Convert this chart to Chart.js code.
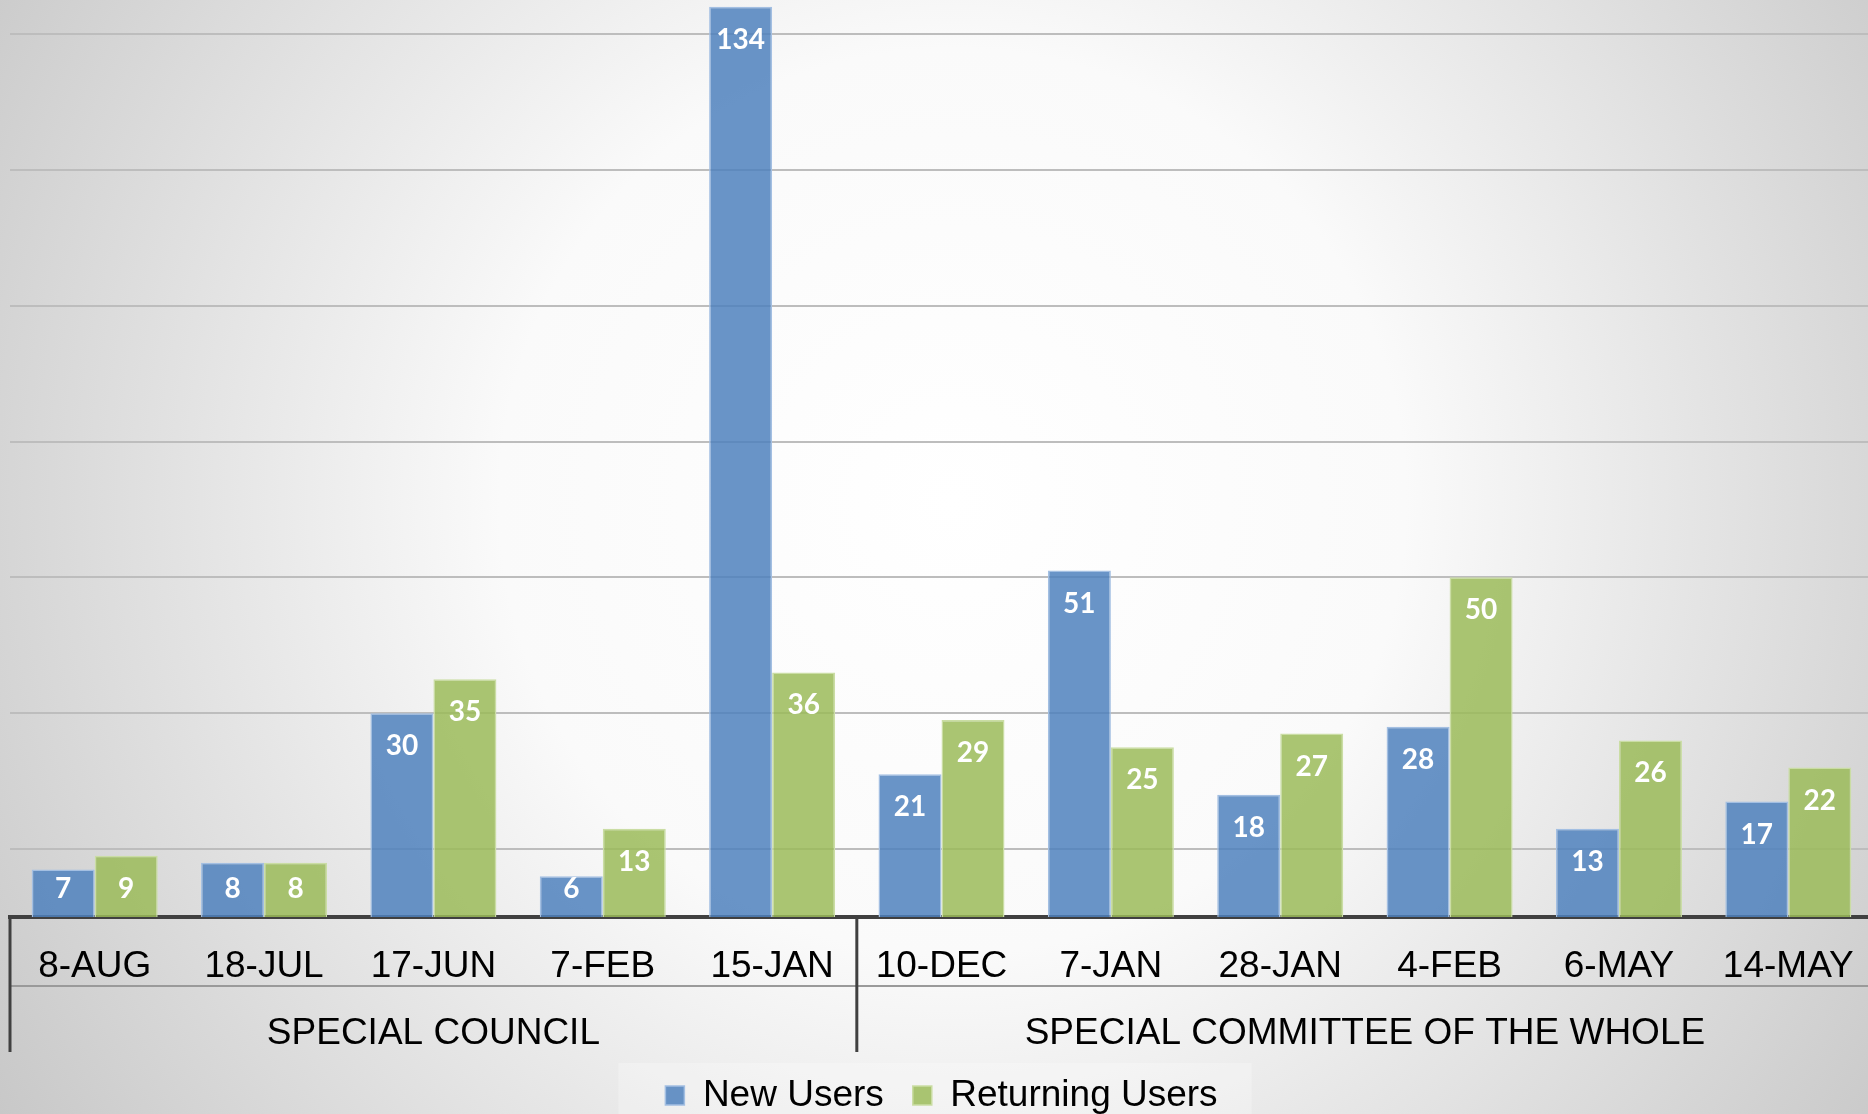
<!DOCTYPE html>
<html><head><meta charset="utf-8">
<script src="https://cdn.jsdelivr.net/npm/chart.js@4.4.0/dist/chart.umd.min.js"></script>
<style>
html,body{margin:0;padding:0;overflow:hidden;}
body{width:1868px;height:1114px;background:radial-gradient(circle farthest-corner at 51% 45%, #ffffff 0%, #fafafa 40%, #c8c8c8 100%);}
canvas{display:block;}
</style></head><body>
<canvas id="c" width="1873" height="1114"></canvas>
<script>
// ---- data ----
const categories = ['8-AUG','18-JUL','17-JUN','7-FEB','15-JAN','10-DEC','7-JAN','28-JAN','4-FEB','6-MAY','14-MAY'];
const groupNames = ['SPECIAL COUNCIL','SPECIAL COMMITTEE OF THE WHOLE'];
const groupSizes = [5, 6];
const newUsers = [7, 8, 30, 6, 134, 21, 51, 18, 28, 13, 17];
const returningUsers = [9, 8, 35, 13, 36, 29, 25, 27, 50, 26, 22];
const seriesNames = ['New Users', 'Returning Users'];
const gridValues = [10, 30, 50, 70, 90, 110, 130];
const yMax = 135;

const FONT = 'Liberation Sans, Arial, sans-serif';

const legendBg = {
  id: 'legendBg',
  beforeDraw(chart) {
    const lg = chart.legend;
    if (!lg || !lg.legendHitBoxes || !lg.legendHitBoxes.length) return;
    const hb = lg.legendHitBoxes;
    const l = Math.min(...hb.map(h => h.left)) - 47;
    const r = Math.max(...hb.map(h => h.left + h.width)) + 34;
    const ctx = chart.ctx;
    ctx.save();
    ctx.fillStyle = 'rgba(255,255,255,0.25)';
    ctx.fillRect(l, 1063, r - l, chart.height - 1063);
    ctx.restore();
  }
};

const valueLabels = {
  id: 'valueLabels',
  afterDatasetsDraw(chart) {
    const ctx = chart.ctx;
    const y0 = chart.scales.y.getPixelForValue(0);
    ctx.save();
    ctx.font = 'bold 28px Lato, sans-serif';
    ctx.fillStyle = '#ffffff';
    ctx.textAlign = 'center';
    ctx.textBaseline = 'middle';
    chart.data.datasets.forEach((ds, i) => {
      chart.getDatasetMeta(i).data.forEach((bar, j) => {
        const y = Math.min(bar.y + 33, y0 - 28);
        ctx.fillText(String(ds.data[j]), bar.x, y);
      });
    });
    ctx.restore();
  }
};

const groupAxis = {
  id: 'groupAxis',
  afterDraw(chart) {
    const xs = chart.scales.x;
    const ctx = chart.ctx;
    const catW = xs.getPixelForValue(1) - xs.getPixelForValue(0);
    const left = xs.getPixelForValue(0) - catW / 2;
    const top = xs.top;
    const sepY = top + 69;
    const lineEnd = top + 135;
    const labelY = top + 117;
    ctx.save();
    ctx.strokeStyle = '#9a9a9a';
    ctx.lineWidth = 2;
    ctx.beginPath();
    ctx.moveTo(left, sepY);
    ctx.lineTo(chart.width + 10, sepY);
    ctx.stroke();
    ctx.strokeStyle = '#404040';
    ctx.lineWidth = 3;
    ctx.font = '37px ' + FONT;
    ctx.fillStyle = '#000';
    ctx.textAlign = 'center';
    ctx.textBaseline = 'middle';
    let idx = 0;
    groupSizes.forEach((n, g) => {
      const gl = xs.getPixelForValue(idx) - catW / 2;
      const gr = xs.getPixelForValue(idx + n - 1) + catW / 2;
      ctx.beginPath();
      ctx.moveTo(gl, top);
      ctx.lineTo(gl, lineEnd);
      ctx.stroke();
      ctx.fillText(groupNames[g], (gl + gr) / 2, labelY);
      idx += n;
    });
    ctx.restore();
  }
};

new Chart(document.getElementById('c'), {
  type: 'bar',
  data: {
    labels: categories,
    datasets: [
      {
        label: seriesNames[0],
        data: newUsers,
        backgroundColor: 'rgba(79,129,189,0.85)',
        borderColor: '#a3bfe2',
        borderWidth: 1.5,
        barPercentage: 1.0,
        categoryPercentage: 0.744
      },
      {
        label: seriesNames[1],
        data: returningUsers,
        backgroundColor: 'rgba(155,187,89,0.85)',
        borderColor: '#cadda4',
        borderWidth: 1.5,
        barPercentage: 1.0,
        categoryPercentage: 0.744
      }
    ]
  },
  options: {
    responsive: false,
    animation: false,
    devicePixelRatio: 1,
    layout: { padding: { left: 10, right: 0, top: 0, bottom: -10 } },
    plugins: {
      tooltip: { enabled: false },
      legend: {
        position: 'bottom',
        labels: {
          font: { family: FONT, size: 37 },
          color: '#000',
          boxWidth: 19,
          boxHeight: 19,
          padding: 29
        }
      }
    },
    scales: {
      x: {
        grid: { display: false, drawTicks: false },
        border: { display: true, color: '#404040', width: 4 },
        ticks: {
          font: { family: FONT, size: 37 },
          color: '#000',
          padding: 28,
          maxRotation: 0,
          autoSkip: false
        },
        afterFit(s) { s.height = 131; s.paddingLeft = 0; s.paddingRight = 0; }
      },
      y: {
        min: 0,
        max: yMax,
        afterBuildTicks(s) { s.ticks = gridValues.map(v => ({ value: v })); },
        ticks: { display: false },
        grid: { color: '#bdbdbd', lineWidth: 2, drawTicks: false },
        border: { display: false }
      }
    }
  },
  plugins: [legendBg, valueLabels, groupAxis]
});
</script>
</body></html>
